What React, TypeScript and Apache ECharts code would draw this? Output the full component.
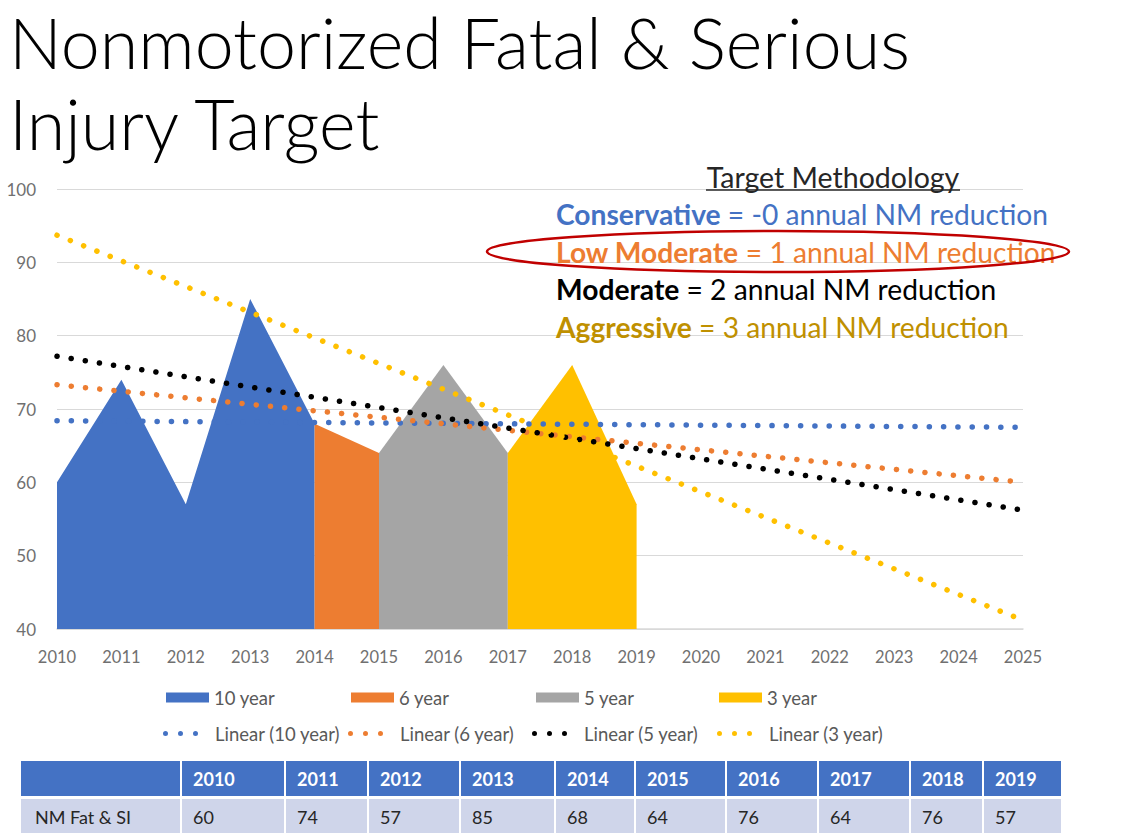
import React, { useEffect, useRef } from "react";
import * as echarts from "echarts";

// ---------- data ----------
const tableYears = ["2010", "2011", "2012", "2013", "2014", "2015", "2016", "2017", "2018", "2019"];
const nmValues = [60, 74, 57, 85, 68, 64, 76, 64, 76, 57];
const rowLabel = "NM Fat & SI";

const tenYearX = [2010, 2011, 2012, 2013, 2014];
const tenYearY = [60, 74, 57, 85, 68];
const sixYearX = [2014, 2015];
const sixYearY = [68, 64];
const fiveYearX = [2015, 2016, 2017];
const fiveYearY = [64, 76, 64];
const threeYearX = [2017, 2018, 2019];
const threeYearY = [64, 76, 57];

const trendX = [2010, 2025];
const trend10 = [68.4, 67.5];
const trend6 = [73.3, 60.0];
const trend5 = [77.2, 56.2];
const trend3 = [93.7, 41.2];

const areaNames = ["10 year", "6 year", "5 year", "3 year"];
const trendNames = ["Linear (10 year)", "Linear (6 year)", "Linear (5 year)", "Linear (3 year)"];
const colors = ["#4472C4", "#ED7D31", "#A5A5A5", "#FFC000"];
const trendColors = ["#4472C4", "#ED7D31", "#000000", "#FFC000"];

const methodTitle = "Target Methodology";
const methodBold = ["Conservative", "Low Moderate", "Moderate", "Aggressive"];
const methodRest = [
  " = -0 annual NM reduction",
  " = 1 annual NM reduction",
  " = 2 annual NM reduction",
  " = 3 annual NM reduction",
];
const methodColors = ["#4472C4", "#ED7D31", "#000000", "#BF9000"];

const titleLines = ["Nonmotorized Fatal & Serious", "Injury Target"];

// ---------- layout ----------
const FONT = "Lato, 'Open Sans', sans-serif";
const colEdges = [21, 181, 285, 368, 460, 555, 635, 726, 818, 910, 983, 1062];
const dotsIcon =
  "path://M0,2.5a2.5,2.5 0 1,0 5,0a2.5,2.5 0 1,0 -5,0Z M15,2.5a2.5,2.5 0 1,0 5,0a2.5,2.5 0 1,0 -5,0Z M30,2.5a2.5,2.5 0 1,0 5,0a2.5,2.5 0 1,0 -5,0Z";
const areaLegendLeft = [166, 351, 536, 719];
const trendLegendLeft = [163, 348, 532, 717];

function pairs(xs: number[], ys: number[]) {
  return xs.map((x, i) => [x, ys[i]]);
}

export default function App() {
  const ref = useRef<HTMLDivElement>(null);
  useEffect(() => {
    if (!ref.current) return;
    const chart = echarts.init(ref.current, null, { renderer: "svg" });

    const areaData = [
      pairs(tenYearX, tenYearY),
      pairs(sixYearX, sixYearY),
      pairs(fiveYearX, fiveYearY),
      pairs(threeYearX, threeYearY),
    ];
    const trendData = [trend10, trend6, trend5, trend3].map((t) => pairs(trendX, t));

    const areaSeries = areaData.map((d, i) => ({
      type: "line",
      name: areaNames[i],
      data: d,
      showSymbol: false,
      symbol: "none",
      color: colors[i],
      itemStyle: { color: colors[i] },
      lineStyle: { width: 0, color: colors[i] },
      areaStyle: { color: colors[i], opacity: 1, origin: "start" },
      z: 2,
    }));
    const trendSeries = trendData.map((d, i) => ({
      type: "line",
      name: trendNames[i],
      data: d,
      showSymbol: false,
      symbol: "none",
      color: trendColors[i],
      itemStyle: { color: trendColors[i] },
      lineStyle: { width: 5.5, color: trendColors[i], type: [0.1, 14.2], cap: "round" },
      z: 3 + i,
    }));

    const legendText = { color: "#595959", fontSize: 18.5, fontFamily: FONT, lineHeight: 18 };
    const legends: any[] = [];
    areaNames.forEach((n, i) => {
      legends.push({
        left: areaLegendLeft[i],
        top: 688,
        padding: 0,
        selectedMode: false,
        itemWidth: 43,
        itemHeight: 10,
        textStyle: legendText,
        data: [{ name: n, icon: "rect", itemStyle: { color: colors[i], borderWidth: 0 } }],
      });
    });
    trendNames.forEach((n, i) => {
      legends.push({
        left: trendLegendLeft[i],
        top: 724,
        padding: 0,
        selectedMode: false,
        itemWidth: 35,
        itemHeight: 5,
        textStyle: { ...legendText, padding: [0, 0, 0, 12] },
        data: [{ name: n, icon: dotsIcon, itemStyle: { color: trendColors[i], borderWidth: 0 } }],
      });
    });

    const graphics: any[] = [];
    titleLines.forEach((t, i) => {
      graphics.push({
        type: "text",
        x: 9,
        y: (i === 0 ? 42 : 123),
        style: {
          text: t,
          fontSize: 70,
          lineHeight: 60,
          fontFamily: FONT,
          fontWeight: 300,
          fill: "#000000",
          align: "left",
          verticalAlign: "middle",
          textAlign: "left",
          textVerticalAlign: "middle",
        },
      });
    });

    // methodology
    graphics.push({
      type: "text",
      x: 833,
      y: 177,
      z: 10,
      style: {
        text: methodTitle,
        fontSize: 28.5,
        fontFamily: FONT,
        fill: "#262626",
        align: "center",
        verticalAlign: "middle",
        textAlign: "center",
        textVerticalAlign: "middle",
      },
    });
    graphics.push({
      type: "line",
      z: 10,
      shape: { x1: 706, y1: 190, x2: 960, y2: 190 },
      style: { stroke: "#262626", lineWidth: 1.5 },
    });
    methodBold.forEach((b, i) => {
      graphics.push({
        type: "text",
        x: 556,
        y: 214 + i * 37.5,
        z: 10,
        style: {
          text: "{b|" + b + "}" + methodRest[i],
          rich: { b: { fontWeight: "bold", fill: methodColors[i], fontSize: 28.2, fontFamily: FONT } },
          fontSize: 28.2,
          fontFamily: FONT,
          fill: methodColors[i],
          align: "left",
          verticalAlign: "middle",
          textAlign: "left",
          textVerticalAlign: "middle",
        },
      });
    });
    graphics.push({
      type: "ellipse",
      z: 11,
      shape: { cx: 778, cy: 251.5, rx: 291, ry: 20.5 },
      style: { fill: "none", stroke: "#C00000", lineWidth: 2.5 },
    });

    // table
    const headerTop = 761;
    const rowH = 35;
    const dataTop = 799;
    for (let c = 0; c < colEdges.length - 1; c++) {
      const x0 = colEdges[c] + (c === 0 ? 0 : 1);
      const w = colEdges[c + 1] - colEdges[c] - (c === 0 ? 1 : 2);
      graphics.push({
        type: "rect",
        z: 1,
        shape: { x: x0, y: headerTop, width: w, height: rowH },
        style: { fill: "#4472C4" },
      });
      graphics.push({
        type: "rect",
        z: 1,
        shape: { x: x0, y: dataTop, width: w, height: rowH },
        style: { fill: "#CFD5EA" },
      });
      if (c > 0) {
        graphics.push({
          type: "text",
          z: 2,
          x: colEdges[c] + 12,
          y: headerTop + rowH / 2,
          style: {
            text: tableYears[c - 1],
            fontSize: 18,
            fontWeight: "bold",
            fontFamily: FONT,
            fill: "#ffffff",
            align: "left",
            verticalAlign: "middle",
            textAlign: "left",
            textVerticalAlign: "middle",
          },
        });
      }
      graphics.push({
        type: "text",
        z: 2,
        x: c === 0 ? 35 : colEdges[c] + 12,
        y: dataTop + rowH / 2,
        style: {
          text: c === 0 ? rowLabel : String(nmValues[c - 1]),
          fontSize: 18,
          fontFamily: FONT,
          fill: "#262626",
          align: "left",
          verticalAlign: "middle",
          textAlign: "left",
          textVerticalAlign: "middle",
        },
      });
    }

    chart.setOption({
      animation: false,
      backgroundColor: "#ffffff",
      grid: { left: 57, right: 101, top: 189, bottom: 204, containLabel: false },
      xAxis: {
        type: "value",
        min: 2010,
        max: 2025,
        interval: 1,
        axisLine: { show: true, lineStyle: { color: "#d9d9d9", width: 1.5 } },
        axisTick: { show: false },
        splitLine: { show: false },
        axisLabel: {
          formatter: (v: number) => String(v),
          color: "#707070",
          fontSize: 16.5,
          fontFamily: FONT,
          margin: 19,
        },
      },
      yAxis: {
        type: "value",
        min: 40,
        max: 100,
        interval: 10,
        axisLine: { show: false },
        axisTick: { show: false },
        splitLine: { lineStyle: { color: "#d9d9d9", width: 1.2 } },
        axisLabel: { color: "#707070", fontSize: 17, fontFamily: FONT, margin: 21 },
      },
      legend: legends,
      series: [...areaSeries, ...trendSeries],
      graphic: { elements: graphics },
    } as any);

    return () => chart.dispose();
  }, []);

  return <div ref={ref} style={{ width: 1124, height: 833, position: "absolute", left: 0, top: 0 }} />;
}
